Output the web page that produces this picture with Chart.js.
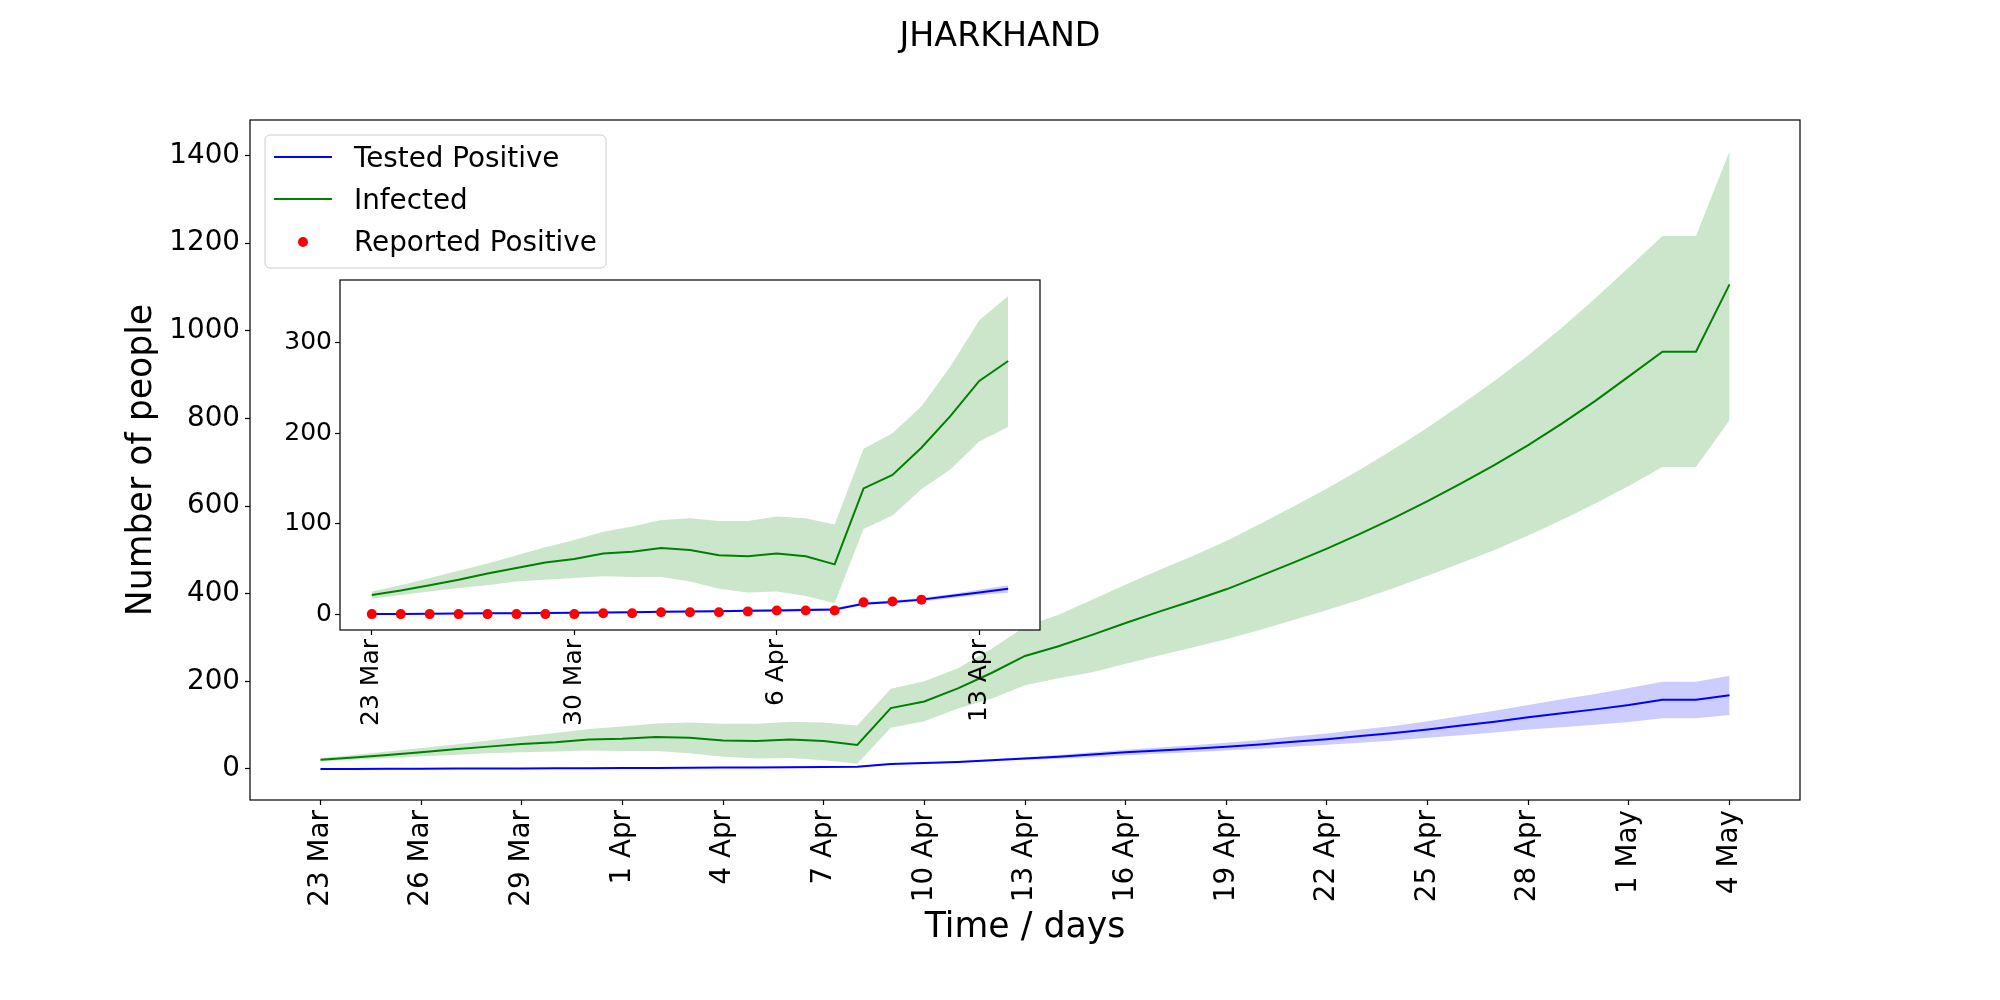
<!DOCTYPE html>
<html>
<head>
<meta charset="utf-8">
<title>JHARKHAND</title>
<script src="https://cdn.jsdelivr.net/npm/chart.js@4.4.1/dist/chart.umd.min.js"></script>
<style>
  html, body { margin: 0; padding: 0; background: #fff; overflow: hidden; }
  #wrap { position: relative; width: 2000px; height: 1000px; }
  canvas { position: absolute; left: 0; top: 0; }
</style>
</head>
<body>
<div id="wrap">
  <canvas id="main" width="2000" height="1000"></canvas>
  <canvas id="inset" width="2000" height="1000"></canvas>
</div>
<script>
// one label per day, 23 Mar .. 4 May
const dates = [
  '23 Mar', '24 Mar', '25 Mar', '26 Mar', '27 Mar', '28 Mar', '29 Mar', '30 Mar', '31 Mar',
  '1 Apr', '2 Apr', '3 Apr', '4 Apr', '5 Apr', '6 Apr', '7 Apr', '8 Apr', '9 Apr', '10 Apr',
  '11 Apr', '12 Apr', '13 Apr', '14 Apr', '15 Apr', '16 Apr', '17 Apr', '18 Apr', '19 Apr', '20 Apr',
  '21 Apr', '22 Apr', '23 Apr', '24 Apr', '25 Apr', '26 Apr', '27 Apr', '28 Apr', '29 Apr', '30 Apr',
  '1 May', '2 May', '3 May', '4 May'
];

const testedPositive = [0, 0.2, 0.4, 0.6, 0.8, 1.0, 1.2, 1.5, 1.8, 2.1, 2.5, 2.8, 3.2, 3.6, 4.1, 4.6, 5.1,
  11.5, 13.5, 16, 20, 24, 28, 33, 38, 42, 46, 51, 56, 62, 68, 75, 82, 90, 99, 108, 118, 127, 136, 146, 158, 158, 168];
const testedUpper = [0.5, 0.7, 1, 1.2, 1.5, 1.7, 2, 2.3, 2.7, 3, 3.5, 3.9, 4.4, 4.9, 5.5, 6.1, 6.7,
  13, 15, 18, 22, 27, 32, 38, 44, 49, 54, 60, 66, 74, 81, 90, 98, 109, 121, 133, 146, 159, 171, 185, 199, 199, 213];
const testedLower = [0, 0, 0.1, 0.2, 0.3, 0.4, 0.6, 0.8, 1.0, 1.3, 1.6, 1.9, 2.2, 2.5, 2.9, 3.3, 3.7,
  10.5, 12, 14, 17.5, 21, 23.5, 27, 31.5, 35, 38, 42, 46, 50.5, 55, 60, 65, 71, 77, 83, 90, 95, 101, 107, 116, 116, 123];

const infected = [21, 26, 32, 38, 45, 51, 57, 61, 67, 69, 73, 71, 65, 64, 67, 64, 55, 139, 154, 184,
  219, 258, 280, 306, 333, 359, 384, 410, 440, 471, 503, 537, 573, 611, 652, 694, 739, 788, 840, 896, 952, 952, 1106];
const infectedUpper = [25, 32, 40, 48, 56, 65, 74, 82, 91, 97, 104, 106, 103, 103, 108, 106, 99, 183, 200, 230,
  274, 325, 352, 386, 421, 454, 486, 520, 559, 599, 640, 684, 730, 779, 832, 886, 944, 1007, 1074, 1145, 1216, 1216, 1410];
const infectedLower = [17, 21, 25, 29, 32, 36, 38, 40, 42, 41, 41, 36, 28, 24, 25, 20, 12, 94, 109, 138,
  160, 191, 207, 221, 240, 259, 277, 296, 317, 340, 363, 387, 413, 441, 470, 500, 533, 568, 606, 646, 689, 689, 796];

const reportedPositive = [0, 0, 0, 0, 0, 0, 0, 0, 1, 1, 2, 2, 2, 3, 4, 4, 4, 13, 14, 16];

const mainTickDays = [0, 3, 6, 9, 12, 15, 18, 21, 24, 27, 30, 33, 36, 39, 42];
const mainYTicks = [0, 200, 400, 600, 800, 1000, 1200, 1400];
const insetTickDays = [0, 7, 14, 21];
const insetYTicks = [0, 100, 200, 300];
const insetDays = 23;

Chart.defaults.font.family = "'DejaVu Sans', sans-serif";
Chart.defaults.color = '#000';

const BLUE = '#0000ff';
const GREEN = '#008000';
const RED = '#ff0000';
const BLUE_FILL = 'rgba(0, 0, 255, 0.2)';
const GREEN_FILL = 'rgba(0, 128, 0, 0.2)';

function pts(arr) {
    return arr.map((v, i) => ({ x: i, y: v }));
}

function lineSet(label, arr, color) {
    return { label: label, data: pts(arr), borderColor: color, borderWidth: 2, pointRadius: 0, tension: 0, fill: false };
}

function bandSets(upper, lower, fillColor) {
    return [
        { label: 'upper', data: pts(upper), borderWidth: 0, pointRadius: 0, fill: false },
        { label: 'lower', data: pts(lower), borderWidth: 0, pointRadius: 0, fill: '-1', backgroundColor: fillColor }
    ];
}

// black box round the plot area
const framePlugin = {
    id: 'frame',
    afterDraw(chart) {
        const a = chart.chartArea;
        const ctx = chart.ctx;
        ctx.save();
        ctx.strokeStyle = '#000';
        ctx.lineWidth = 1.2;
        ctx.strokeRect(a.left, a.top, a.right - a.left, a.bottom - a.top);
        ctx.restore();
    }
};

// white face for the inset so the main plot does not show through
const facePlugin = {
    id: 'face',
    beforeDraw(chart, args, opts) {
        if (!opts.color) return;
        const a = chart.chartArea;
        chart.ctx.save();
        chart.ctx.fillStyle = opts.color;
        chart.ctx.fillRect(a.left, a.top, a.right - a.left, a.bottom - a.top);
        chart.ctx.restore();
    }
};

const suptitlePlugin = {
    id: 'suptitle',
    afterDraw(chart) {
        const ctx = chart.ctx;
        ctx.save();
        ctx.font = "33.3px 'DejaVu Sans'";
        ctx.fillStyle = '#000';
        ctx.textAlign = 'center';
        ctx.textBaseline = 'alphabetic';
        ctx.fillText('JHARKHAND', chart.width / 2, 46);
        ctx.restore();
    }
};

const legendEntries = [
    { label: 'Tested Positive', color: BLUE, kind: 'line' },
    { label: 'Infected', color: GREEN, kind: 'line' },
    { label: 'Reported Positive', color: RED, kind: 'dot' }
];

const boxLegendPlugin = {
    id: 'boxLegend',
    afterDraw(chart) {
        const ctx = chart.ctx;
        const a = chart.chartArea;
        const x0 = a.left + 15, y0 = a.top + 15, w = 341, h = 133, r = 5;
        ctx.save();
        ctx.beginPath();
        ctx.moveTo(x0 + r, y0);
        ctx.arcTo(x0 + w, y0, x0 + w, y0 + h, r);
        ctx.arcTo(x0 + w, y0 + h, x0, y0 + h, r);
        ctx.arcTo(x0, y0 + h, x0, y0, r);
        ctx.arcTo(x0, y0, x0 + w, y0, r);
        ctx.closePath();
        ctx.fillStyle = 'rgba(255, 255, 255, 0.8)';
        ctx.fill();
        ctx.strokeStyle = '#cccccc';
        ctx.lineWidth = 1;
        ctx.stroke();

        ctx.font = "27.8px 'DejaVu Sans'";
        ctx.textAlign = 'left';
        ctx.textBaseline = 'alphabetic';
        legendEntries.forEach((e, i) => {
            const cy = y0 + 22 + i * 42;
            if (e.kind === 'line') {
                ctx.beginPath();
                ctx.moveTo(x0 + 9, cy);
                ctx.lineTo(x0 + 67, cy);
                ctx.strokeStyle = e.color;
                ctx.lineWidth = 2;
                ctx.stroke();
            } else {
                ctx.beginPath();
                ctx.arc(x0 + 38, cy + 1, 5, 0, Math.PI * 2);
                ctx.fillStyle = e.color;
                ctx.fill();
            }
            ctx.fillStyle = '#000';
            ctx.fillText(e.label, x0 + 89, cy + 10);
        });
        ctx.restore();
    }
};

function fixedX(height) {
    return function (scale) {
        scale.height = height;
        scale.paddingLeft = 0;
        scale.paddingRight = 0;
    };
}

function fixedY(width) {
    return function (scale) {
        scale.width = width;
        scale.paddingTop = 0;
        scale.paddingBottom = 0;
    };
}

function tickMarks() {
    return { display: true, drawOnChartArea: false, drawTicks: true, tickLength: 5, tickColor: '#000', tickWidth: 1.2 };
}

// main axes
const mainChart = new Chart(document.getElementById('main'), {
    type: 'line',
    data: {
        datasets: [
            lineSet('Tested Positive', testedPositive, BLUE),
            lineSet('Infected', infected, GREEN),
            ...bandSets(testedUpper, testedLower, BLUE_FILL),
            ...bandSets(infectedUpper, infectedLower, GREEN_FILL)
        ]
    },
    options: {
        responsive: false,
        animation: false,
        devicePixelRatio: 1,
        events: [],
        layout: { padding: { left: 0, right: 200, top: 120, bottom: 0 } },
        plugins: { legend: { display: false }, tooltip: { enabled: false } },
        scales: {
            x: {
                type: 'linear',
                min: -2.1,
                max: 44.1,
                afterBuildTicks: s => { s.ticks = mainTickDays.map(v => ({ value: v })); },
                afterFit: fixedX(200),
                grid: tickMarks(),
                border: { display: false },
                ticks: {
                    autoSkip: false, minRotation: 90, maxRotation: 90, padding: 5,
                    font: { size: 27.8 },
                    callback: v => dates[v]
                },
                title: {
                    display: true, text: 'Time / days',
                    font: { size: 34.7 }, padding: { top: 0, bottom: 51.6 }
                }
            },
            y: {
                type: 'linear',
                min: -70.8,
                max: 1481,
                afterBuildTicks: s => { s.ticks = mainYTicks.map(v => ({ value: v })); },
                afterFit: fixedY(250),
                grid: tickMarks(),
                border: { display: false },
                ticks: { padding: 5, font: { size: 27.8 }, callback: v => String(v) },
                title: {
                    display: true, text: 'Number of people',
                    font: { size: 34.7 }, padding: { top: 121.2, bottom: 0 }
                }
            }
        }
    },
    plugins: [framePlugin, suptitlePlugin, boxLegendPlugin]
});

// inset axes, first three weeks
const insetChart = new Chart(document.getElementById('inset'), {
    type: 'line',
    data: {
        datasets: [
            {
                label: 'Reported Positive', data: pts(reportedPositive), showLine: false,
                pointRadius: 5, pointBackgroundColor: RED, pointBorderWidth: 0, borderColor: RED
            },
            lineSet('Tested Positive', testedPositive.slice(0, insetDays), BLUE),
            lineSet('Infected', infected.slice(0, insetDays), GREEN),
            ...bandSets(testedUpper.slice(0, insetDays), testedLower.slice(0, insetDays), BLUE_FILL),
            ...bandSets(infectedUpper.slice(0, insetDays), infectedLower.slice(0, insetDays), GREEN_FILL)
        ]
    },
    options: {
        responsive: false,
        animation: false,
        devicePixelRatio: 1,
        events: [],
        layout: { padding: { left: 280, right: 960, top: 280, bottom: 270 } },
        plugins: { legend: { display: false }, tooltip: { enabled: false }, face: { color: '#fff' } },
        scales: {
            x: {
                type: 'linear',
                min: -1.1,
                max: 23.1,
                afterBuildTicks: s => { s.ticks = insetTickDays.map(v => ({ value: v })); },
                afterFit: fixedX(100),
                grid: tickMarks(),
                border: { display: false },
                ticks: {
                    autoSkip: false, minRotation: 90, maxRotation: 90, padding: 4,
                    font: { size: 25 },
                    callback: v => dates[v]
                }
            },
            y: {
                type: 'linear',
                min: -17.6,
                max: 369.6,
                afterBuildTicks: s => { s.ticks = insetYTicks.map(v => ({ value: v })); },
                afterFit: fixedY(60),
                grid: tickMarks(),
                border: { display: false },
                ticks: { padding: 3, font: { size: 25 }, callback: v => String(v) }
            }
        }
    },
    plugins: [facePlugin, framePlugin]
});
</script>
</body>
</html>
